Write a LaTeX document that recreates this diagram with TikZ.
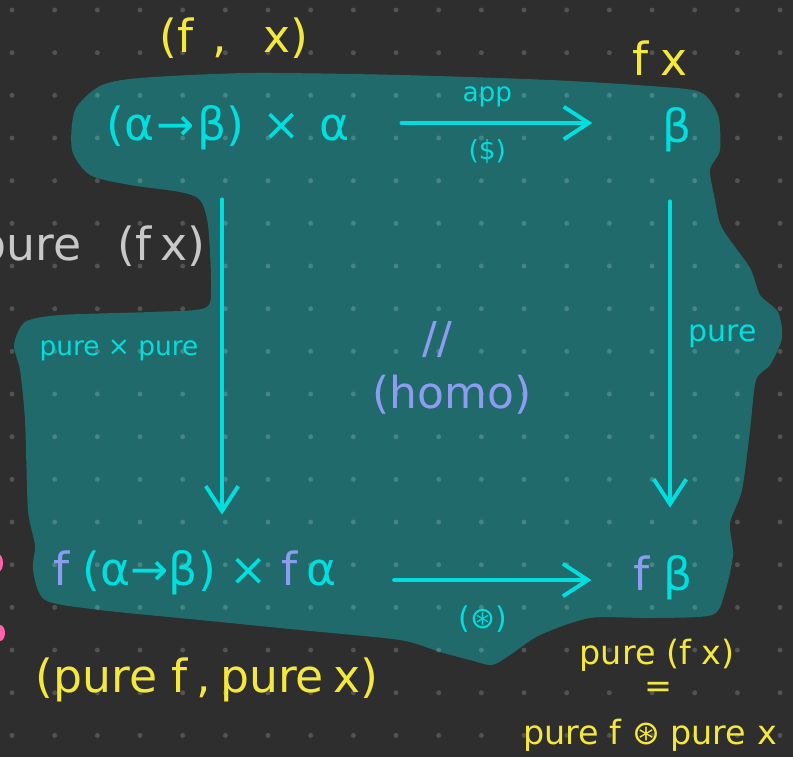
\documentclass[tikz,border=0pt]{standalone}
\usepackage{fontspec}
\setmainfont{DejaVu Sans}
\usetikzlibrary{arrows.meta,positioning,calc}
\definecolor{boardgrey}{RGB}{46,46,46}
\definecolor{blobteal}{RGB}{33,106,107}
\definecolor{inkcyan}{RGB}{0,222,222}
\definecolor{inkyellow}{RGB}{245,232,60}
\definecolor{inklav}{RGB}{140,156,240}
\definecolor{inkgrey}{RGB}{200,200,200}
\definecolor{inkpink}{RGB}{255,100,170}

\begin{document}
\begin{tikzpicture}[x=0.02cm, y=-0.02cm,
  term/.style={text=inkcyan, font=\fontsize{26}{30}\selectfont, inner sep=1pt},
  note/.style={text=inkyellow, font=\fontsize{26}{30}\selectfont, inner sep=1pt},
  eqn/.style={text=inkyellow, font=\fontsize{19}{23}\selectfont, inner sep=1pt},
  lbl/.style={text=inkcyan, font=\fontsize{15}{18}\selectfont, inner sep=1pt},
  homo/.style={text=inklav, font=\fontsize{25}{29}\selectfont, inner sep=1pt},
  arr/.style={inkcyan, line width=2.2pt, line cap=round, -{Straight Barb[length=5mm, width=6.5mm]}},
  dotc/.style={white, opacity=0.18}
]

% ---- board and highlight blob ----
\fill[boardgrey] (0,0) rectangle (793,757);
\clip (0,0) rectangle (793,757);
\fill[blobteal] plot[smooth cycle, tension=0.45] coordinates {
  (75,110) (100,86) (140,78) (250,73) (400,75) (550,80) (650,86) (700,92)
  (718,115) (720,150) (710,170) (715,200) (722,228) (750,268) (760,295)
  (778,312) (782,338) (770,365) (756,380) (750,430) (742,490) (730,523)
  (733,555) (725,592) (712,615) (650,618) (590,618) (540,635) (510,655)
  (492,665) (470,660) (440,652) (400,640) (300,630) (200,620) (100,610)
  (45,600) (33,570) (35,545) (28,510) (25,420) (20,370) (14,345) (25,322)
  (60,315) (150,312) (205,308) (211,285) (208,225) (200,200) (180,192)
  (130,185) (90,175) (72,150)};
\foreach \i in {0,...,18}
  \foreach \j in {0,...,17}
    \fill[dotc] ({12+42.67*\i},{10+42.67*\j}) circle (1.4pt);

% ---- corner terms ----
\node[term] (ab)  at (228,128) {(α\hspace{0.05em}→\hspace{0.05em}β)\hspace{0.4em}×\hspace{0.4em}α};
\node[term] (b)   at (677,130) {β};
\node[term] (fab) at (195,573) {\textcolor{inklav}{f}\hspace{0.3em}(α→β)\hspace{0.3em}×\hspace{0.3em}\textcolor{inklav}{f}\hspace{0.2em}α};
\node[term] (fb)  at (663,578) {\textcolor{inklav}{f}\hspace{0.3em}β};

% ---- arrows ----
\draw[arr] ($(ab.east)+(50,-5)$) -- ($(b.west)+(-68,-7)$)
  node[pos=0.45, above=7pt, lbl] {app}
  node[pos=0.45, below=7pt, lbl] {(\$)};
\draw[arr] ($(ab.south)+(-6,47)$) -- ($(ab.south |- fab.north)+(-6,-34)$)
  node[pos=0.48, left=0.4cm, lbl] {pure × pure};
\draw[arr] ($(b.south)+(-7,47)$) -- ($(b.south |- fb.north)+(-7,-46)$)
  node[pos=0.44, right=0.3cm, lbl, font=\fontsize{17}{20}\selectfont] {pure};
\draw[arr] ($(fab.east)+(55,7)$) -- ($(fb.west)+(-40,2)$)
  node[pos=0.45, below=0.45cm, lbl, font=\fontsize{17}{20}\selectfont] {(⊛)};

% ---- commutes ----
\node[homo] (slash) at (437,340) {//};
\node[homo] (hm)    at (452,395) {(homo)};

% ---- yellow element annotations ----
\node[note] (pair)  at (234,38)  {(f\hspace{0.4em},\hspace{0.8em}x)};
\node[note] (fx)    at (660,58)  {f\hspace{0.25em}x};
\node[note] (ppair) at (207,680) {(pure\hspace{0.3em}f\hspace{0.2em},\hspace{0.2em}pure\hspace{0.2em}x)};
\node[eqn]  (pfx)   at (657,655) {pure (f x)};
\node[eqn]  (eqs)   at (658,690) {=};
\node[eqn]  (pfpx)  at (650,735) {pure f ⊛ pure x};

% ---- cut-off leftovers at the left edge ----
\node[text=inkgrey, font=\fontsize{26}{30}\selectfont, anchor=east] (pfxg) at (212,248) {pure\hspace{0.8em}(f\hspace{0.2em}x)};
\fill[inkpink] (-2,563) ellipse (5 and 9);
\fill[inkpink] (0,633) ellipse (5 and 8);

\end{tikzpicture}
\end{document}
